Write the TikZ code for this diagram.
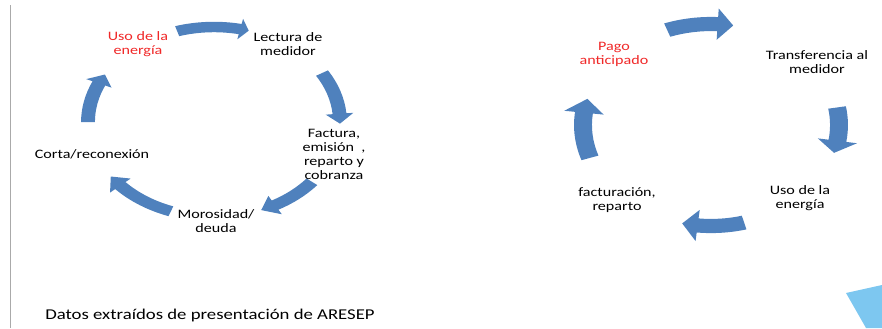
\documentclass[tikz,border=0pt]{standalone}
\usepackage{fontspec}
\setmainfont{Carlito}[FakeStretch=1.25]
\usetikzlibrary{positioning}
\definecolor{cycleblue}{RGB}{79,129,189}
\definecolor{cyclered}{RGB}{240,40,40}
\definecolor{cornerblue}{RGB}{125,199,240}
\definecolor{edgegrey}{RGB}{170,170,170}

% curved block arrow on an ellipse: centre, rx, ry, start, head base, tip, shaft, head
\newcommand{\cyclearrow}[8]{%
  \begin{scope}[shift={#1}]
    \fill[cycleblue] (#4:{#2*(1+#7)} and {#3*(1+#7)})
      arc[start angle=#4, end angle=#5, x radius={#2*(1+#7)}, y radius={#3*(1+#7)}]
      -- (#5:{#2*(1+#8)} and {#3*(1+#8)}) -- (#6:#2 and #3)
      -- (#5:{#2*(1-#8)} and {#3*(1-#8)}) -- (#5:{#2*(1-#7)} and {#3*(1-#7)})
      arc[start angle=#5, end angle=#4, x radius={#2*(1-#7)}, y radius={#3*(1-#7)}]
      -- cycle;
  \end{scope}}

\begin{document}
\begin{tikzpicture}[x=0.03cm, y=-0.03cm, font=\fontsize{11}{12}\selectfont,
    every node/.style={align=center, inner sep=0pt}]
    \useasboundingbox (0,0) rectangle (882,328);
    \draw[edgegrey, line width=0.8pt] (10,5) -- (10,328);
    \fill[cornerblue] (846,293) -- (882,285) -- (882,328) -- (866,328) -- cycle;

    % left cycle
    \cyclearrow{(214,122)}{126}{95}{-107}{-78}{-74}{0.055}{0.11}
    \cyclearrow{(214,122)}{126}{95}{-31}{-5}{1}{0.055}{0.11}
    \cyclearrow{(214,122)}{126}{95}{39}{61}{68}{0.055}{0.11}
    \cyclearrow{(214,122)}{126}{95}{110}{138}{145}{0.055}{0.11}
    \cyclearrow{(214,122)}{126}{95}{180}{204}{210}{0.055}{0.11}
    \node[text=cyclered] (usoleft) at (138,44) {Uso de la\\energía};
    \node (lectura) at (288,44) {Lectura de\\medidor};
    \node (factura) at (334,154) {Factura,\\emisión\ \ ,\\reparto y\\cobranza};
    \node (morosidad) at (216,221) {Morosidad/\\deuda};
    \node (corta) at (92,154) {Corta/reconexión};

    % right cycle
    \cyclearrow{(711,125)}{128}{101}{-110}{-87}{-80}{0.07}{0.155}
    \cyclearrow{(711,125)}{128}{101}{-10}{9}{16}{0.07}{0.155}
    \cyclearrow{(711,125)}{128}{101}{75}{96}{103}{0.07}{0.155}
    \cyclearrow{(711,125)}{128}{101}{161}{187}{195}{0.07}{0.155}
    \node[text=cyclered] (pago) at (614,54) {Pago\\anticipado};
    \node (transferencia) at (817,62) {Transferencia al\\medidor};
    \node (usoright) at (800,198) {Uso de la\\energía};
    \node (facturacion) at (617,200) {facturación,\\reparto};

    \node[font=\fontsize{12.8}{14}\selectfont] (fuente) at (210,315) {Datos extraídos de presentación de ARESEP};
\end{tikzpicture}
\end{document}
